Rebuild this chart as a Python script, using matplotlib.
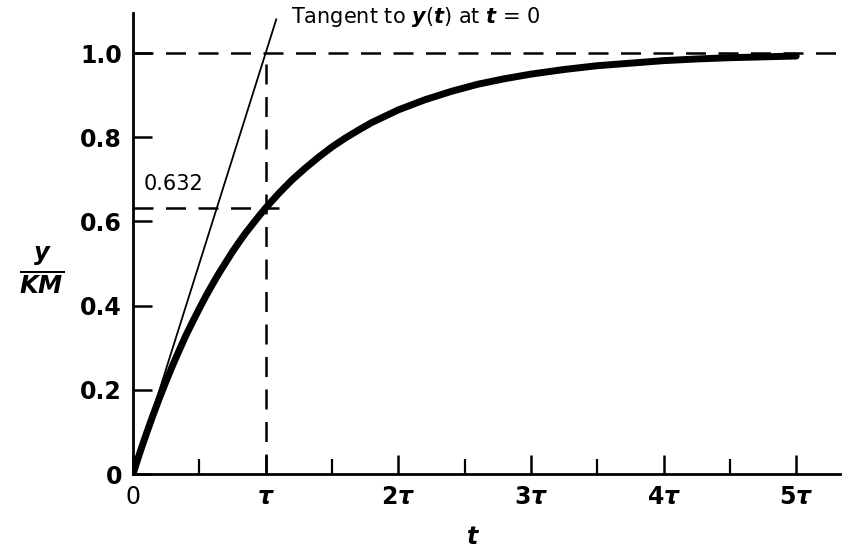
import matplotlib
matplotlib.use("Agg")
import matplotlib.pyplot as plt

plt.rcParams['font.family'] = ['DejaVu Sans']
plt.rcParams['mathtext.fontset'] = 'custom'
plt.rcParams['mathtext.rm'] = 'DejaVu Sans:bold'
plt.rcParams['mathtext.it'] = 'DejaVu Sans:italic:bold'
plt.rcParams['mathtext.bf'] = 'DejaVu Sans:bold'

# step response of a first order system, t in units of tau
t_tau = [0, 0.05, 0.1, 0.15, 0.2, 0.25, 0.3, 0.35, 0.4, 0.45, 0.5, 0.55, 0.6,
         0.65, 0.7, 0.75, 0.8, 0.85, 0.9, 0.95, 1.0, 1.1, 1.2, 1.3, 1.4, 1.5,
         1.6, 1.7, 1.8, 1.9, 2.0, 2.2, 2.4, 2.6, 2.8, 3.0, 3.25, 3.5, 3.75,
         4.0, 4.25, 4.5, 4.75, 5.0]
y_km = [0, 0.049, 0.095, 0.139, 0.181, 0.221, 0.259, 0.295, 0.33, 0.362, 0.393,
        0.423, 0.451, 0.478, 0.503, 0.528, 0.551, 0.573, 0.593, 0.613, 0.632,
        0.667, 0.699, 0.727, 0.753, 0.777, 0.798, 0.817, 0.835, 0.85, 0.865,
        0.889, 0.909, 0.926, 0.939, 0.95, 0.961, 0.97, 0.976, 0.982, 0.986,
        0.989, 0.991, 0.993]

tangent_t = [0, 1.08]
tangent_y = [0, 1.08]

x_ticks = [0, 1, 2, 3, 4, 5]
x_labels = ['0', r'$\tau$', r'$2\tau$', r'$3\tau$', r'$4\tau$', r'$5\tau$']
x_minor = [0.5, 1.5, 2.5, 3.5, 4.5]
y_ticks = [0, 0.2, 0.4, 0.6, 0.8, 1.0]
y_labels = ['0', '0.2', '0.4', '0.6', '0.8', '1.0']

fig = plt.figure(figsize=(8.67, 5.52), dpi=100)
ax = fig.add_axes([0.1534, 0.1413, 0.8155, 0.835])
ax.set_xlim(0, 5.33)
ax.set_ylim(0, 1.095)

for s in ['top', 'right']:
    ax.spines[s].set_visible(False)
for s in ['left', 'bottom']:
    ax.spines[s].set_linewidth(2.0)

ax.set_xticks(x_ticks)
ax.set_xticklabels(x_labels, fontsize=17)
ax.set_xticks(x_minor, minor=True)
ax.set_yticks(y_ticks)
ax.set_yticklabels(y_labels, fontsize=17, fontweight='bold')
ax.tick_params(axis='both', which='major', direction='in', length=14, width=1.8, pad=8)
ax.tick_params(axis='x', which='minor', direction='in', length=11, width=1.6)

# reference dashed lines
dash = dict(color='black', lw=1.8, dashes=(8, 5), zorder=1)
ax.plot([0, 5.33], [1.0, 1.0], **dash)
ax.plot([1.0, 1.0], [0, 1.0], **dash)
ax.plot([0, 1.1], [0.632, 0.632], **dash)

ax.plot(tangent_t, tangent_y, color='black', lw=1.3, zorder=2)
ax.plot(t_tau, y_km, color='black', lw=5, solid_capstyle='round', zorder=3)

ax.text(1.19, 1.085, r'Tangent to $y$($t$) at $t$ = 0', fontsize=15, va='center', ha='left',
        clip_on=False)
ax.text(0.08, 0.665, '0.632', fontsize=15, va='bottom', ha='left')

fig.text(0.048, 0.51, r'$\frac{y}{KM}$', fontsize=25, ha='center', va='center')
fig.text(0.545, 0.028, r'$t$', fontsize=17, ha='center', va='center')

fig.savefig('out.png', dpi=100)
